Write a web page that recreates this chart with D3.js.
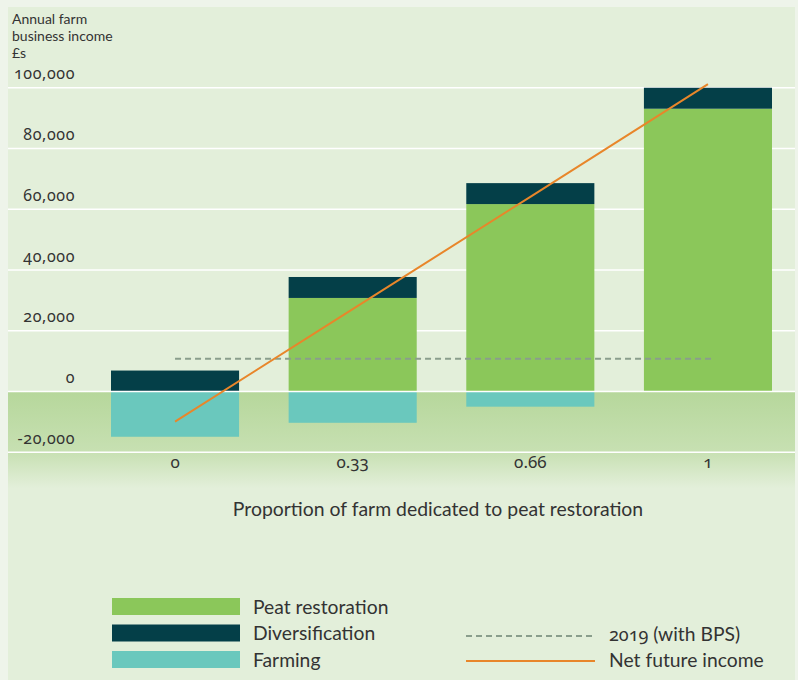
<!DOCTYPE html>
<html>
<head>
<meta charset="utf-8">
<script src="https://cdn.jsdelivr.net/npm/d3@7"></script>
<style>
  html, body { margin: 0; padding: 0; background: #eef4ea; }
  svg { display: block; }
  text { font-family: Lato, "Noto Sans", sans-serif; fill: #333; }
  .num { font-family: "Noto Sans", sans-serif; font-variant-numeric: oldstyle-nums; font-feature-settings: "onum" 1; }
</style>
</head>
<body>
<svg id="chart" width="798" height="680"></svg>
<script>
// Proportion of the farm given over to peat restoration
const categories = ["0", "0.33", "0.66", "1"];
// Annual farm business income components, £
const peatRestoration = [0, 30800, 61700, 93100];
const diversification = [6900, 6900, 6900, 6900];
const farming = [-14900, -10300, -5000, 0];
// Net future income line, £
const netFutureIncome = [-9900, 27100, 64100, 101200];
// 2019 income including the Basic Payment Scheme, £
const income2019 = 10800;
const yTicks = [-20000, 0, 20000, 40000, 60000, 80000, 100000];
const yTickLabels = ["-20,000", "0", "20,000", "40,000", "60,000", "80,000", "100,000"];

const colors = {
  peat: "#8bc75a",
  div: "#043f48",
  farm: "#6ac8bd",
  net: "#e8862a",
  bps: "#8a9e8c"
};

const svg = d3.select("#chart");
const W = 798, H = 680;
const panel = { left: 8, right: 795, top: 7 };

const x = d3.scaleBand().domain(categories).range([111, 772]).paddingInner(0.279).paddingOuter(0);
const y = d3.scaleLinear().domain([-20000, 100000]).range([452.25, 87.75]);
const cx = c => x(c) + x.bandwidth() / 2;

// panel background
svg.append("rect").attr("x", panel.left).attr("y", panel.top)
  .attr("width", panel.right - panel.left).attr("height", H - panel.top).attr("fill", "#e3efda");

// shaded band for negative income, fading out below the axis
const defs = svg.append("defs");
const grad = defs.append("linearGradient").attr("id", "negBand")
  .attr("x1", 0).attr("y1", 0).attr("x2", 0).attr("y2", 1);
grad.append("stop").attr("offset", 0).attr("stop-color", "#b6d79b");
grad.append("stop").attr("offset", 0.62).attr("stop-color", "#c7e0b2");
grad.append("stop").attr("offset", 1).attr("stop-color", "#e3efda");
const bandTop = y(0), bandBottom = y(-20000) + 36;
svg.append("rect").attr("x", panel.left).attr("y", bandTop)
  .attr("width", panel.right - panel.left).attr("height", bandBottom - bandTop)
  .attr("fill", "url(#negBand)");

// gridlines
svg.append("g").selectAll("line").data(yTicks.filter(d => d !== 0)).join("line")
  .attr("x1", panel.left).attr("x2", panel.right)
  .attr("y1", d => y(d)).attr("y2", d => y(d))
  .attr("stroke", "#ffffff").attr("stroke-width", 1.6);

// y tick labels sit above their gridlines
svg.append("g").selectAll("text").data(yTicks).join("text")
  .attr("class", "num")
  .attr("x", 75).attr("y", d => y(d) - 8.5)
  .attr("text-anchor", "end").attr("font-size", 16).attr("letter-spacing", 0.6)
  .text((d, i) => yTickLabels[i]);

// y axis title
svg.append("text").attr("x", 12).attr("y", 24).attr("font-size", 14)
  .selectAll("tspan").data(["Annual farm", "business income", "£s"]).join("tspan")
  .attr("x", 12).attr("dy", (d, i) => i === 0 ? 0 : 17).text(d => d);

// stacked bars
const bars = svg.append("g");
categories.forEach((c, i) => {
  const segs = [
    { v0: 0, v1: peatRestoration[i], color: colors.peat },
    { v0: peatRestoration[i], v1: peatRestoration[i] + diversification[i], color: colors.div },
    { v0: farming[i], v1: 0, color: colors.farm }
  ].filter(s => s.v1 !== s.v0);
  bars.selectAll(null).data(segs).join("rect")
    .attr("x", x(c)).attr("width", x.bandwidth())
    .attr("y", s => y(s.v1)).attr("height", s => y(s.v0) - y(s.v1))
    .attr("fill", s => s.color);
});

// zero line drawn over the bars
svg.append("line").attr("x1", panel.left).attr("x2", panel.right)
  .attr("y1", y(0)).attr("y2", y(0)).attr("stroke", "#ffffff").attr("stroke-width", 1.6);

// 2019 reference line
svg.append("line")
  .attr("x1", cx(categories[0])).attr("x2", cx(categories[categories.length - 1]) + 4)
  .attr("y1", y(income2019)).attr("y2", y(income2019))
  .attr("stroke", colors.bps).attr("stroke-width", 2).attr("stroke-dasharray", "6,4");

// net future income
svg.append("path")
  .datum(netFutureIncome)
  .attr("d", d3.line().x((d, i) => cx(categories[i])).y(d => y(d)))
  .attr("fill", "none").attr("stroke", colors.net).attr("stroke-width", 2);

// category labels
svg.append("g").selectAll("text").data(categories).join("text")
  .attr("class", "num")
  .attr("x", d => cx(d)).attr("y", 468).attr("text-anchor", "middle").attr("font-size", 17)
  .text(d => d);

// x axis title
svg.append("text").attr("x", 438).attr("y", 516).attr("text-anchor", "middle").attr("font-size", 19.4)
  .text("Proportion of farm dedicated to peat restoration");

// legend: bar series
const barLegend = [
  { label: "Peat restoration", color: colors.peat },
  { label: "Diversification", color: colors.div },
  { label: "Farming", color: colors.farm }
];
const lg = svg.append("g");
lg.selectAll("rect").data(barLegend).join("rect")
  .attr("x", 112).attr("y", (d, i) => 598 + i * 26.5).attr("width", 128).attr("height", 17)
  .attr("fill", d => d.color);
lg.selectAll("text").data(barLegend).join("text")
  .attr("x", 253).attr("y", (d, i) => 613.5 + i * 26.5).attr("font-size", 19.3)
  .text(d => d.label);

// legend: line series (the year is set in old-style figures)
const lineLegend = [
  { label: "2019 (with BPS)", color: colors.bps, dash: "6,4" },
  { label: "Net future income", color: colors.net, dash: null }
];
const ll = svg.append("g");
ll.selectAll("line").data(lineLegend).join("line")
  .attr("x1", 466).attr("x2", 595)
  .attr("y1", (d, i) => 636 + i * 25).attr("y2", (d, i) => 636 + i * 25)
  .attr("stroke", d => d.color).attr("stroke-width", 2)
  .attr("stroke-dasharray", d => d.dash);
ll.selectAll("text").data(lineLegend).join("text")
  .attr("x", 609).attr("y", (d, i) => 641 + i * 25.5).attr("font-size", 19.3)
  .each(function (d) {
    const t = d3.select(this);
    const m = d.label.match(/^(\d+)(.*)$/);
    if (m) {
      t.append("tspan").attr("class", "num").attr("font-size", 18).text(m[1]);
      t.append("tspan").text(m[2]);
    } else {
      t.text(d.label);
    }
  });
</script>
</body>
</html>
